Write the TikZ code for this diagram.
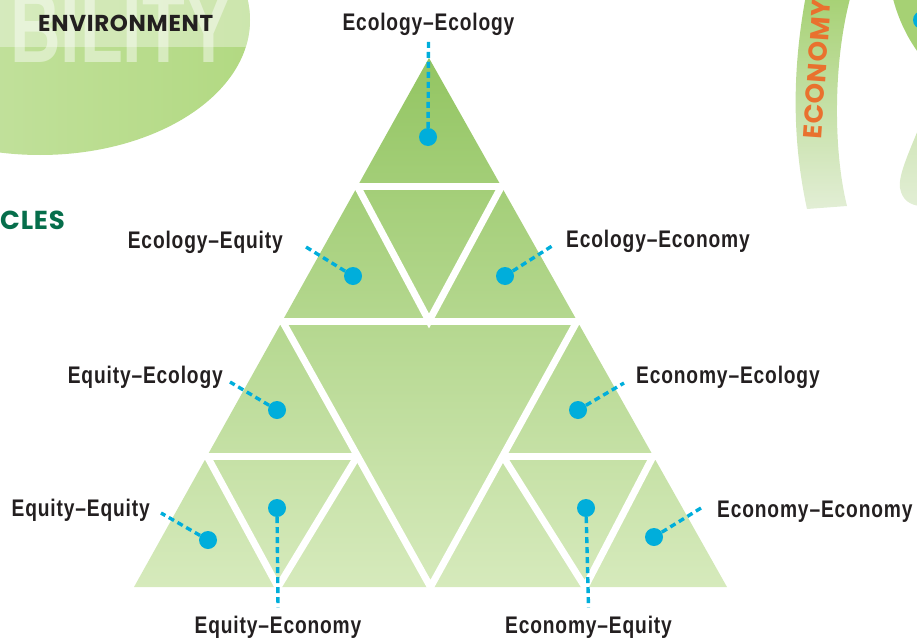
\documentclass[tikz,border=0pt]{standalone}
\usepackage{fontspec}
\setmainfont{Liberation Sans}
\newfontfamily\labfont{Liberation Sans}[FakeStretch=0.8,LetterSpace=3.5]
\newfontfamily\bigfont{Liberation Sans}[FakeStretch=0.7]
\newfontfamily\geofont{Poppins}[LetterSpace=3]
\usetikzlibrary{positioning}
\definecolor{ink}{HTML}{231F20}
\definecolor{dotc}{HTML}{00AEDB}
\definecolor{triA}{HTML}{93C562}
\definecolor{triB}{HTML}{B3D985}
\definecolor{triC}{HTML}{D6EABC}
\definecolor{ovalL}{HTML}{CAE5AA}
\definecolor{ovalR}{HTML}{B2D982}
\definecolor{bandA}{HTML}{A6D174}
\definecolor{bandB}{HTML}{E2EED5}
\definecolor{deepgreen}{HTML}{066E4B}
\definecolor{orange}{HTML}{E9712E}
\newcommand\geosize[1]{\geofont\bfseries\fontsize{#1}{#1}\selectfont}
\tikzset{
  gap/.style={draw=white, line width=7pt, line join=miter},
  lead/.style={draw=dotc, line width=3.4pt, dash pattern=on 6pt off 4pt},
  dot/.style={circle, fill=dotc, inner sep=0pt, minimum size=18pt},
  lab/.style={text=ink, inner sep=0pt, font=\labfont\bfseries\fontsize{24}{28}\selectfont},
  geo/.style={inner sep=0pt},
}

\begin{document}
\begin{tikzpicture}[x=1pt,y=-1pt]
  \useasboundingbox (0,0) rectangle (917,642);

  % background shapes
  \shade[left color=ovalL, right color=ovalR] (40,20) ellipse [x radius=210, y radius=135];
  \begin{scope}
    \clip (40,20) ellipse [x radius=210, y radius=135];
    \fill[white, opacity=0.35] (-10,-10) rectangle (300,47);
    \node[anchor=base west, inner sep=0pt, text=white, opacity=0.45,
      font=\bigfont\bfseries\fontsize{100}{100}\selectfont] (bigword) at (10,63) {BILITY};
  \end{scope}
  \node[geo, anchor=base west, text=ink, font=\geosize{23}] (envir) at (38,32) {ENVIRONMENT};
  \node[geo, anchor=base west, text=deepgreen, font=\geosize{26}] (cles) at (0,229) {CLES};

  \shade[top color=bandA, bottom color=bandB] (806,-5) .. controls (792,70) and (792,140) .. (807,209)
    -- (847,206) .. controls (833,150) and (833,60) .. (851,-5) -- cycle;
  \node[geo, text=orange, rotate=86, font=\geosize{26}] (econ) at (817,69) {ECONOMY};
  \fill[bandA] (892,-5) .. controls (897,15) and (905,35) .. (920,55) -- (920,-5) -- cycle;
  \node[dot] (dEdge) at (922,20) {};
  \shade[top color=bandB!70!bandA, bottom color=bandB] (920,125) .. controls (910,150) and (898,175) .. (900,188)
    .. controls (902,200) and (910,205) .. (920,206) -- cycle;

  % pyramid
  \coordinate (T) at (429,58);
  \coordinate (BL) at (134,587);
  \coordinate (BR) at (727,587);
  \shade[top color=triA, middle color=triB, bottom color=triC] (T) -- (BL) -- (BR) -- cycle;

  \draw[gap] (265,321) -- (595,321);
  \draw[gap] (282.3,321) -- (430.5,587) -- (577.2,321);
  \draw[gap] (340,186.5) -- (518,186.5);
  \draw[gap] (357.4,186.5) -- (429,321) -- (501.4,186.5);
  \draw[gap] (192,456) -- (357.5,456);
  \draw[gap] (207,456) -- (278,587) -- (357.5,456);
  \draw[gap] (502.7,456) -- (668,456);
  \draw[gap] (502.7,456) -- (585,587) -- (653.2,456);

  % labels
  \node[lab, anchor=base] (lEcoEco) at (428.5,31) {Ecology–Ecology};
  \node[lab, anchor=base east] (lEcoEqu) at (283,248) {Ecology–Equity};
  \node[lab, anchor=base west] (lEcoEcn) at (566,247) {Ecology–Economy};
  \node[lab, anchor=base east] (lEquEco) at (223,383) {Equity–Ecology};
  \node[lab, anchor=base west] (lEcnEco) at (636,383) {Economy–Ecology};
  \node[lab, anchor=base east] (lEquEqu) at (150,516) {Equity–Equity};
  \node[lab, anchor=base west] (lEcnEcn) at (717,517) {Economy–Economy};
  \node[lab, anchor=base] (lEquEcn) at (278,633) {Equity–Economy};
  \node[lab, anchor=base] (lEcnEqu) at (588.5,633) {Economy–Equity};

  % dots
  \node[dot] (dEcoEco) at (428,137) {};
  \node[dot] (dEcoEqu) at (353,276) {};
  \node[dot] (dEcoEcn) at (505,276) {};
  \node[dot] (dEquEco) at (277,410) {};
  \node[dot] (dEcnEco) at (578,410) {};
  \node[dot] (dEquEqu) at (208,540) {};
  \node[dot] (dEcnEcn) at (654,537) {};
  \node[dot] (dEquEcn) at (277,508) {};
  \node[dot] (dEcnEqu) at (586,508) {};

  \draw[lead] (dEcoEco) -- ([yshift=-4pt]lEcoEco.south);
  \draw[lead] (dEcoEqu) -- ([xshift=23pt,yshift=1pt]lEcoEqu.base east);
  \draw[lead] (dEcoEcn) -- ([xshift=-14pt,yshift=1pt]lEcoEcn.base west);
  \draw[lead] (dEquEco) -- ([xshift=7pt,yshift=1pt]lEquEco.base east);
  \draw[lead] (dEcnEco) -- ([xshift=-12pt]lEcnEco.base west);
  \draw[lead] (dEquEqu) -- ([xshift=11pt,yshift=3pt]lEquEqu.base east);
  \draw[lead] (dEcnEcn) -- ([xshift=-16pt,yshift=9pt]lEcnEcn.base west);
  \draw[lead] (dEquEcn) -- ([yshift=8pt]lEquEcn.north);
  \draw[lead] (dEcnEqu) -- ([yshift=8pt]lEcnEqu.north);
\end{tikzpicture}
\end{document}
